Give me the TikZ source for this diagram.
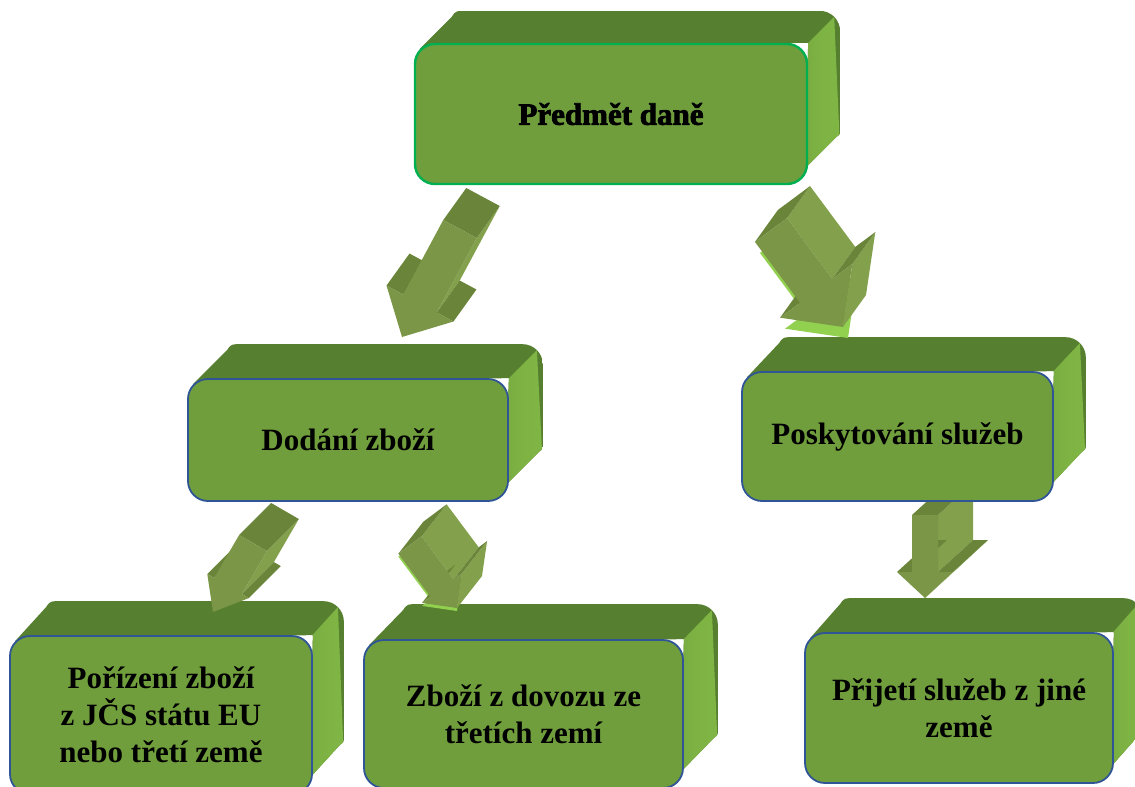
\documentclass[tikz,border=0pt]{standalone}
\usepackage{fontspec}
\setmainfont{Liberation Serif}
\newfontfamily\heavyfont{Liberation Serif}[BoldFeatures={FakeBold=2.5}]
\usetikzlibrary{calc}
\pgfdeclarelayer{ext}
\pgfdeclarelayer{arr}
\pgfsetlayers{ext,arr,main}
\definecolor{boxfront}{RGB}{112,158,60}
\definecolor{boxtop}{RGB}{86,127,47}
\definecolor{boxlight}{RGB}{128,182,69}
\definecolor{boxblue}{RGB}{47,85,151}
\definecolor{boxgreen}{RGB}{0,176,80}
\definecolor{arrfront}{RGB}{122,150,70}
\definecolor{arrdark}{RGB}{106,133,58}
\definecolor{arrlight}{RGB}{131,160,76}
\definecolor{arrshadow}{RGB}{146,208,80}
\tikzset{
  box/.style={draw=boxblue, line width=1.8pt, fill=boxfront, rounded corners=20pt,
    inner sep=0pt, align=center, font=\bfseries\fontsize{31}{37}\selectfont},
}
% 3D extrusion behind a box node: #1 node, #2 dx, #3 dy
\newcommand\boxextrude[3]{%
  \begin{scope}
    \clip ($(#1.north west)+(6,6)$) -- ($(#1.north west)+(6+#2,6+#3)$)
      .. controls ($(#1.north west)+(#2+10,#3)$) .. ($(#1.north west)+(#2+22,#3)$)
      -- ($(#1.north east)+(#2-21,#3)$)
      .. controls ($(#1.north east)+(#2-9,#3)$) and ($(#1.north east)+(#2,#3+9)$)
      .. ($(#1.north east)+(#2,#3+21)$)
      -- ($(#1.south east)+(#2,#3-24)$)
      .. controls ($(#1.south east)+(#2,#3-19)$) .. ($(#1.south east)+(#2-4,#3-16)$)
      -- ($(#1.south east)+(-4,-16)$)
      -- (#1.north east) -- cycle;
    \fill[boxtop] ($(#1.north west)+(0,#3)$) rectangle ($(#1.south east)+(#2,0)$);
    \shade[left color=boxlight!80!boxtop, right color=boxlight, middle color=boxlight!95!boxtop]
      ($(#1.north east)+(-6,6)$) -- ($(#1.north east)+(#2-6,#3+6)$)
      -- ($(#1.south east)+(#2,#3)$) -- (#1.south east) -- cycle;
  \end{scope}}
% 3D block arrow: #1 tail, #2 tip, #3 shaft half width, #4 head half width,
% #5 head length, #6 depth vector, #7 head side colour, #8 shadow offset, #9 shadow colour
\newcommand\blockarrow[9]{%
  \coordinate (aT) at (#1);
  \coordinate (aH) at (#2);
  \coordinate (aB) at ($(aH)!#5pt!(aT)$);
  \coordinate (p1) at ($(aT)!#3pt!90:(aH)$);
  \coordinate (p2) at ($(aB)!#3pt!90:(aH)$);
  \coordinate (p3) at ($(aB)!#4pt!90:(aH)$);
  \coordinate (p4) at (aH);
  \coordinate (p5) at ($(aB)!#4pt!-90:(aH)$);
  \coordinate (p6) at ($(aB)!#3pt!-90:(aH)$);
  \coordinate (p7) at ($(aT)!#3pt!-90:(aH)$);
  \path[fill=#9] ($(p1)+(#8)$) -- ($(p2)+(#8)$) -- ($(p3)+(#8)$) -- ($(p4)+(#8)$)
     -- ($(p5)+(#8)$) -- ($(p6)+(#8)$) -- ($(p7)+(#8)$) -- cycle;
  \fill[arrlight] (p1) -- (p2) -- ($(p2)+(#6)$) -- ($(p1)+(#6)$) -- cycle;
  \path[fill=#7] (p3) -- (p4) -- ($(p4)+(#6)$) -- ($(p3)+(#6)$) -- cycle;
  \fill[arrdark] (p2) -- (p3) -- ($(p3)+(#6)$) -- ($(p2)+(#6)$) -- cycle;
  \fill[arrdark] (p5) -- (p6) -- ($(p6)+(#6)$) -- ($(p5)+(#6)$) -- cycle;
  \fill[arrdark] (p7) -- (p1) -- ($(p1)+(#6)$) -- ($(p7)+(#6)$) -- cycle;
  \fill[arrfront] (p1) -- (p2) -- (p3) -- (p4) -- (p5) -- (p6) -- (p7) -- cycle;
}
\begin{document}
\begin{tikzpicture}[x=1pt, y=-1pt]
\useasboundingbox (0,0) rectangle (1135,787);
\clip (0,0) rectangle (1135,787);

% front faces
\node[box, draw=boxgreen, line width=2.4pt, minimum width=392pt, minimum height=140pt]
  (top) at (611,114) {\heavyfont\bfseries Předmět daně};
\node[box, minimum width=320pt, minimum height=122pt] (dod) at (348,440) {Dodání zboží};
\node[box, minimum width=311pt, minimum height=129pt] (posk) at (897.5,436.5) {Poskytování služeb};
\node[box, minimum width=302pt, minimum height=158pt] (por) at (161,715)
  {Pořízení zboží\\z JČS státu EU\\nebo třetí země};
\node[box, minimum width=319pt, minimum height=148pt] (dov) at (523.5,714)
  {Zboží z dovozu ze\\třetích zemí};
\node[box, minimum width=308pt, minimum height=150pt] (prij) at (959,708)
  {Přijetí služeb z jiné\\země};

% extrusions
\begin{pgfonlayer}{ext}
  \boxextrude{top}{32}{-32}
  \boxextrude{dod}{34}{-34}
  \boxextrude{posk}{32}{-34}
  \boxextrude{por}{31}{-34}
  \boxextrude{dov}{34}{-35}
  \boxextrude{prij}{30}{-34}
\end{pgfonlayer}

% block arrows
\begin{pgfonlayer}{arr}
  \blockarrow{460,229}{402,337}{19}{38}{38}{23,-32}{none}{0,0}{none}
  \blockarrow{771,230}{843,327}{20}{45}{45}{23,-32}{arrlight}{5,11}{arrshadow}
  \blockarrow{253,543}{213,612}{16}{24}{30}{32,-32}{none}{0,0}{none}
  \blockarrow{410,545}{457,608}{14.5}{25}{25}{25,-32}{arrlight}{0,3}{arrshadow}
  \blockarrow{925,515}{925,598}{13}{28}{26}{35,-32}{arrlight}{0,0}{none}
\end{pgfonlayer}
\end{tikzpicture}
\end{document}
